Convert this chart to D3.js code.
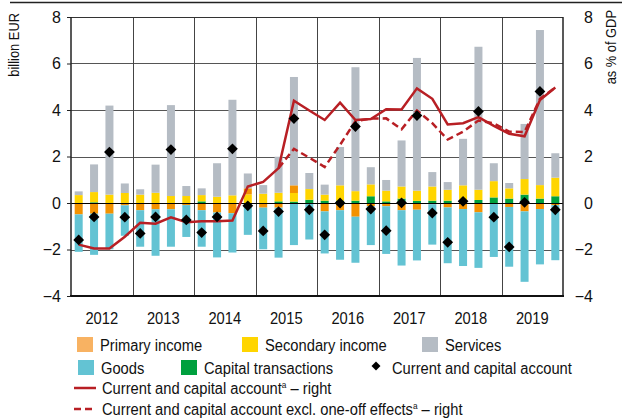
<!DOCTYPE html>
<html>
<head>
<meta charset="utf-8">
<script src="https://cdn.jsdelivr.net/npm/d3@7"></script>
<style>
  html, body { margin: 0; padding: 0; background: #fff; }
  svg { display: block; font-family: "Liberation Sans Narrow", "Arial Narrow", "Liberation Sans", sans-serif; }
</style>
</head>
<body>
<script>
// Quarterly balance of payments components, billion EUR
const years = ["2012", "2013", "2014", "2015", "2016", "2017", "2018", "2019"];
const quarters = years.flatMap(y => ["Q1", "Q2", "Q3", "Q4"].map(q => y + q));

const goods = [-1.61, -1.77, -1.53, -1.31, -1.57, -2.00, -1.61, -1.37, -1.57, -1.93, -1.69, -1.37, -1.79, -2.15, -1.81, -1.57,
               -1.81, -2.13, -1.98, -1.67, -2.05, -2.38, -2.18, -1.74, -2.40, -2.45, -2.39, -2.32, -2.57, -3.03, -2.38, -2.37];
const primaryIncome = [-0.49, -0.46, -0.46, -0.10, -0.31, -0.27, -0.27, -0.09, -0.31, -0.41, -0.44, 0.26, -0.20, -0.20, 0.33, 0.00,
                       -0.36, -0.31, -0.59, -0.14, -0.14, -0.31, -0.29, -0.05, -0.19, -0.26, -0.40, 0.00, -0.17, -0.36, -0.26, -0.09];
const secondaryIncome = [0.34, 0.44, 0.36, 0.43, 0.36, 0.44, 0.30, 0.30, 0.27, 0.27, 0.33, 0.37, 0.40, 0.37, 0.37, 0.46,
                         0.26, 0.66, 0.41, 0.51, 0.46, 0.52, 0.44, 0.61, 0.47, 0.70, 0.44, 0.70, 0.44, 0.67, 0.58, 0.80];
const capitalTransactions = [0.00, 0.03, 0.00, 0.00, 0.00, 0.00, 0.00, 0.00, 0.07, 0.00, 0.00, 0.00, 0.00, 0.07, 0.06, 0.14,
                             0.10, 0.10, 0.10, 0.29, 0.07, 0.19, 0.09, 0.10, 0.10, 0.06, 0.13, 0.24, 0.19, 0.36, 0.19, 0.29];
const services = [0.16, 1.19, 3.83, 0.41, 0.23, 1.21, 3.91, 0.43, 0.29, 1.44, 4.11, 0.64, 0.37, 1.55, 4.66, 0.69,
                  0.43, 1.65, 5.33, 0.74, 0.46, 1.98, 5.71, 0.62, 0.33, 2.00, 6.15, 0.77, 0.23, 2.37, 6.67, 1.05];
const currentCapital = [-1.59, -0.60, 2.19, -0.61, -1.31, -0.60, 2.30, -0.73, -1.27, -0.60, 2.33, -0.12, -1.20, -0.37, 3.63, -0.29,
                        -1.37, 0.00, 3.29, -0.26, -1.19, 0.01, 3.76, -0.43, -1.69, 0.07, 3.94, -0.61, -1.89, 0.03, 4.80, -0.29];

// Current and capital account, % of GDP (right axis)
const ccaGdp = [-1.79, -1.96, -1.96, -1.45, -0.85, -0.89, -0.62, -0.83, -0.78, -0.78, -0.75, 0.71, 0.91, 1.50, 4.40, 3.98,
                3.57, 4.32, 3.57, 3.61, 4.03, 4.02, 4.93, 4.48, 3.38, 3.43, 3.69, 3.32, 2.98, 2.87, 4.43, 4.97];
const ccaExclGdp = [null, null, null, null, null, null, null, null, null, null, null, null, null, 1.50, 2.33, 1.95,
                    1.55, 2.50, 3.52, 3.63, 3.64, 3.17, 3.98, 3.43, 2.73, 3.07, 3.55, 3.42, 3.07, 3.05, 4.48, 4.97];

const yTicks = [-4, -2, 0, 2, 4, 6, 8];

const colors = {
  goods: "#63c3d3",
  primary: "#f39200",
  primaryKey: "#f8b262",
  secondary: "#ffd500",
  capital: "#00a03e",
  services: "#b5bcc4",
  line: "#b81f24"
};

const W = 622, H = 418;
const plot = { left: 71, right: 563, top: 17, bottom: 296 };
const squeeze = 0.92; // horizontal condensing of label text

const svg = d3.select("body").append("svg").attr("width", W).attr("height", H);

const x = d3.scaleBand().domain(quarters).range([plot.left, plot.right]).paddingInner(0).paddingOuter(0);
const xYear = d3.scaleBand().domain(years).range([plot.left, plot.right]);
const y = d3.scaleLinear().domain([-4, 8]).range([plot.bottom, plot.top]);
const yRight = d3.scaleLinear().domain([-4, 8]).range([plot.bottom, plot.top]);

// places a condensed text label at (px, py)
function label(parent, px, py, size) {
  return parent.append("text")
    .attr("transform", `translate(${px},${py}) scale(${squeeze},1)`)
    .attr("font-size", size).attr("fill", "#111");
}

// top rule
svg.append("line").attr("x1", 10).attr("x2", W).attr("y1", 2.5).attr("y2", 2.5)
  .attr("stroke", "#222").attr("stroke-width", 1.5);

// grid
const grid = svg.append("g");
grid.selectAll("line.h").data(yTicks.filter(t => t !== 0 && t !== -4)).join("line")
  .attr("x1", plot.left).attr("x2", plot.right)
  .attr("y1", d => Math.round(y(d)) + 0.5).attr("y2", d => Math.round(y(d)) + 0.5)
  .attr("stroke", "#555").attr("stroke-width", 1);
grid.selectAll("line.v").data(years.slice(1)).join("line")
  .attr("x1", d => Math.round(xYear(d)) + 0.5).attr("x2", d => Math.round(xYear(d)) + 0.5)
  .attr("y1", plot.top).attr("y2", plot.bottom)
  .attr("stroke", "#444").attr("stroke-width", 1);

// stacked bars
const table = quarters.map((q, i) => ({
  q, capital: capitalTransactions[i], secondary: secondaryIncome[i], primary: primaryIncome[i],
  services: services[i], goods: goods[i]
}));
const keys = ["capital", "secondary", "primary", "services", "goods"];
const stacked = d3.stack().keys(keys).offset(d3.stackOffsetDiverging)(table);
const barW = 8;
svg.append("g").selectAll("g").data(stacked).join("g")
  .attr("fill", d => colors[d.key])
  .selectAll("rect").data(d => d).join("rect")
  .attr("x", d => x(d.data.q) + x.bandwidth() / 2 - barW / 2)
  .attr("width", barW)
  .attr("y", d => y(Math.max(d[0], d[1])))
  .attr("height", d => Math.abs(y(d[0]) - y(d[1])));

// zero line
svg.append("line").attr("x1", plot.left).attr("x2", plot.right)
  .attr("y1", Math.round(y(0)) + 0.5).attr("y2", Math.round(y(0)) + 0.5)
  .attr("stroke", "#000").attr("stroke-width", 1);

// frame
svg.append("line").attr("x1", plot.left).attr("x2", plot.right).attr("y1", plot.top + 0.5).attr("y2", plot.top + 0.5)
  .attr("stroke", "#333").attr("stroke-width", 1);
svg.append("line").attr("x1", plot.left).attr("x2", plot.left).attr("y1", plot.top).attr("y2", plot.bottom)
  .attr("stroke", "#222").attr("stroke-width", 1.5);
svg.append("line").attr("x1", plot.right).attr("x2", plot.right).attr("y1", plot.top).attr("y2", plot.bottom)
  .attr("stroke", "#222").attr("stroke-width", 1.5);
svg.append("line").attr("x1", plot.left - 1).attr("x2", plot.right + 1).attr("y1", plot.bottom).attr("y2", plot.bottom)
  .attr("stroke", "#111").attr("stroke-width", 2.2);

// lines on the right axis
const lineGen = d3.line()
  .defined(d => d.v !== null)
  .x(d => x(d.q) + x.bandwidth() / 2)
  .y(d => yRight(d.v));
svg.append("path")
  .datum(quarters.map((q, i) => ({ q, v: ccaExclGdp[i] })))
  .attr("d", lineGen).attr("fill", "none").attr("stroke", colors.line)
  .attr("stroke-width", 2.5).attr("stroke-dasharray", "7,4");
svg.append("path")
  .datum(quarters.map((q, i) => ({ q, v: ccaGdp[i] })))
  .attr("d", lineGen).attr("fill", "none").attr("stroke", colors.line)
  .attr("stroke-width", 2.5).attr("stroke-linejoin", "miter");

// diamonds
const diamond = d3.symbol().type(d3.symbolSquare).size(58);
svg.append("g").selectAll("path").data(currentCapital).join("path")
  .attr("d", diamond)
  .attr("transform", (d, i) => `translate(${x(quarters[i]) + x.bandwidth() / 2},${y(d)}) rotate(45)`)
  .attr("fill", "#000");

// axes
const leftAxis = d3.axisLeft(y).tickValues(yTicks).tickSize(4).tickPadding(6).tickFormat(d3.format("d"));
const gl = svg.append("g").attr("transform", `translate(${plot.left},0)`).call(leftAxis);
const rightAxis = d3.axisRight(yRight).tickValues(yTicks).tickSize(0).tickPadding(12).tickFormat(d3.format("d"));
const gr = svg.append("g").attr("transform", `translate(${plot.right},0)`).call(rightAxis);
[gl, gr].forEach(g => {
  g.select(".domain").remove();
  g.selectAll(".tick line").attr("stroke", "#222");
  g.selectAll(".tick text").attr("font-size", 16).attr("fill", "#111")
    .attr("font-family", "'Liberation Sans Narrow', 'Arial Narrow', 'Liberation Sans', sans-serif");
});
gr.selectAll(".tick text").attr("text-anchor", "end").attr("x", 30);

label(svg, 19, 13, 14).attr("transform", `translate(19,13) rotate(-90) scale(${squeeze},1)`)
  .attr("text-anchor", "end").text("billion EUR");
label(svg, 616, 10, 14).attr("transform", `translate(616,10) rotate(-90) scale(${squeeze},1)`)
  .attr("text-anchor", "end").text("as % of GDP");

// year labels
const yearG = svg.append("g");
years.forEach(yr => {
  label(yearG, xYear(yr) + xYear.bandwidth() / 2, 324, 16).attr("text-anchor", "middle").text(yr);
});

// legend
const leg = svg.append("g");
const swatches = [
  { label: "Primary income", color: colors.primaryKey, x: 77, y: 337 },
  { label: "Secondary income", color: colors.secondary, x: 242, y: 337 },
  { label: "Services", color: colors.services, x: 422, y: 337 },
  { label: "Goods", color: colors.goods, x: 78, y: 360 },
  { label: "Capital transactions", color: colors.capital, x: 181, y: 360 }
];
swatches.forEach(s => {
  leg.append("rect").attr("x", s.x).attr("y", s.y).attr("width", 16).attr("height", 15).attr("fill", s.color);
  label(leg, s.x + 23, s.y + 14, 16).text(s.label);
});
leg.append("path").attr("d", d3.symbol().type(d3.symbolSquare).size(40))
  .attr("transform", "translate(376,366) rotate(45)").attr("fill", "#000");
label(leg, 392, 374, 16).text("Current and capital account");

leg.append("line").attr("x1", 74).attr("x2", 96).attr("y1", 388).attr("y2", 388)
  .attr("stroke", colors.line).attr("stroke-width", 2.5);
const t1 = label(leg, 102, 394, 16);
t1.append("tspan").text("Current and capital account");
t1.append("tspan").attr("font-size", 9).attr("dy", -6).text("a");
t1.append("tspan").attr("dy", 6).text(" – right");

leg.append("line").attr("x1", 74).attr("x2", 96).attr("y1", 409).attr("y2", 409)
  .attr("stroke", colors.line).attr("stroke-width", 2.5).attr("stroke-dasharray", "7,4");
const t2 = label(leg, 102, 415, 16);
t2.append("tspan").text("Current and capital account excl. one-off effects");
t2.append("tspan").attr("font-size", 9).attr("dy", -6).text("a");
t2.append("tspan").attr("dy", 6).text(" – right");
</script>
</body>
</html>
